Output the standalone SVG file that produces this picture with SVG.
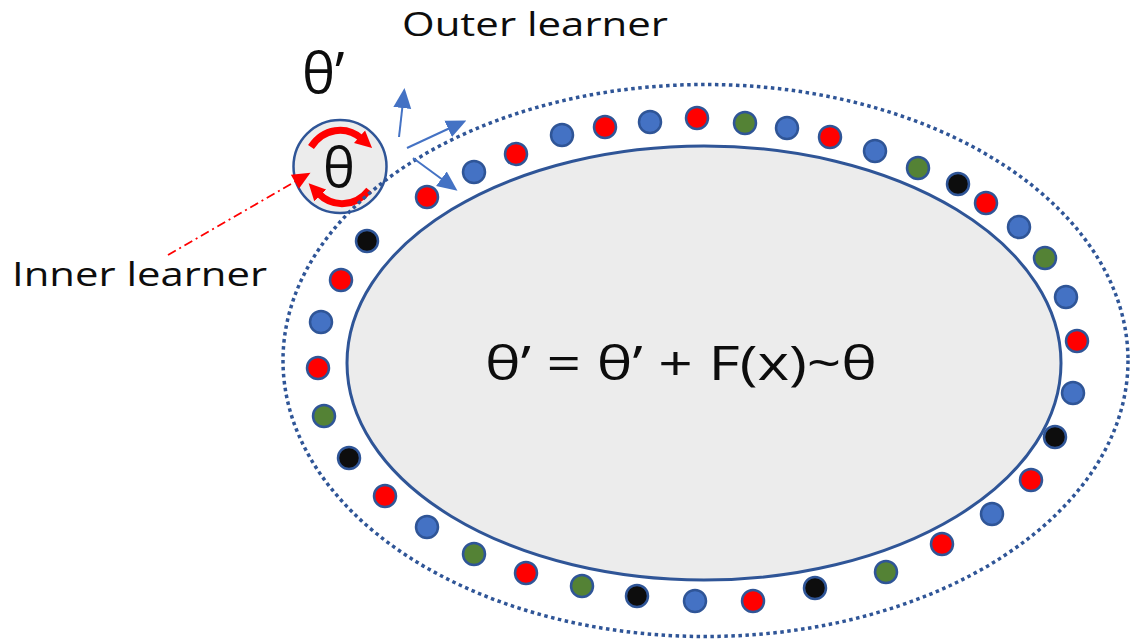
<svg xmlns="http://www.w3.org/2000/svg" width="1130" height="639" viewBox="0 0 1130 639">
<style>
  text { font-family: "Open Sans", "DejaVu Sans", sans-serif; fill: #0d0d0d; }
  .dot { stroke: #2f5597; stroke-width: 2.5; }
  .b { fill: #4472c4; }
  .r { fill: #ff0000; }
  .g { fill: #548235; }
  .k { fill: #0d0d0d; }
  .barrow { stroke: #4472c4; stroke-width: 2; fill: none; marker-end: url(#bhead); }
  .rarc { stroke: #ff0000; stroke-width: 7; fill: none; marker-end: url(#rhead); }
</style>
<defs>
  <marker id="bhead" viewBox="0 0 20 20" refX="2" refY="10" markerWidth="20" markerHeight="20" markerUnits="userSpaceOnUse" orient="auto">
    <path d="M0,1 L20,10 L0,19 Z" fill="#4472c4"/>
  </marker>
  <marker id="rhead" viewBox="0 0 10 10" refX="2" refY="5" markerWidth="2.4" markerHeight="2.6" orient="auto">
    <path d="M0,0 L10,5 L0,10 Z" fill="#ff0000"/>
  </marker>
  <marker id="rline" viewBox="0 0 20 20" refX="4" refY="10" markerWidth="24" markerHeight="18" markerUnits="userSpaceOnUse" orient="auto">
    <path d="M0,1 L20,10 L0,19 Z" fill="#ff0000"/>
  </marker>
</defs>

<g id="inner-region">
  <ellipse cx="704" cy="363" rx="357" ry="217" fill="#ececec" stroke="#2f5597" stroke-width="3"/>
  <text x="681" y="380" font-size="48" text-anchor="middle" textLength="392" lengthAdjust="spacingAndGlyphs">θ’ = θ’ + F(x)~θ</text>
</g>

<g id="theta-node">
  <circle cx="340" cy="166.5" r="46.5" fill="#ececec" stroke="#2f5597" stroke-width="2.5"/>
  <text x="339" y="187" font-size="54" text-anchor="middle">θ</text>
  <path class="rarc" d="M311,147 A36 41 0 0 1 362,139"/>
  <path class="rarc" d="M369,190 A36 41 0 0 1 318,193"/>
</g>

<g id="outer-boundary">
  <ellipse cx="705.5" cy="360.5" rx="422.5" ry="276" fill="none" stroke="#2f5597" stroke-width="3.5" stroke-dasharray="3.5 3.5"/>
</g>

<g id="samples">
  <circle class="dot b" cx="474" cy="172" r="11"/>
  <circle class="dot r" cx="427" cy="197" r="11"/>
  <circle class="dot r" cx="516" cy="154" r="11"/>
  <circle class="dot b" cx="562" cy="135" r="11"/>
  <circle class="dot r" cx="605" cy="127" r="11"/>
  <circle class="dot b" cx="650" cy="122" r="11"/>
  <circle class="dot r" cx="697" cy="118" r="11"/>
  <circle class="dot g" cx="745" cy="123" r="11"/>
  <circle class="dot b" cx="787" cy="128" r="11"/>
  <circle class="dot r" cx="830" cy="137" r="11"/>
  <circle class="dot b" cx="875" cy="151" r="11"/>
  <circle class="dot g" cx="918" cy="168" r="11"/>
  <circle class="dot k" cx="958" cy="184" r="11"/>
  <circle class="dot r" cx="986" cy="203" r="11"/>
  <circle class="dot b" cx="1019" cy="227" r="11"/>
  <circle class="dot g" cx="1045" cy="258" r="11"/>
  <circle class="dot b" cx="1066" cy="297" r="11"/>
  <circle class="dot r" cx="1077" cy="341" r="11"/>
  <circle class="dot b" cx="1073" cy="393" r="11"/>
  <circle class="dot k" cx="1055" cy="437" r="11"/>
  <circle class="dot r" cx="1031" cy="480" r="11"/>
  <circle class="dot b" cx="992" cy="514" r="11"/>
  <circle class="dot r" cx="942" cy="544" r="11"/>
  <circle class="dot g" cx="886" cy="572" r="11"/>
  <circle class="dot k" cx="815" cy="588" r="11"/>
  <circle class="dot r" cx="753" cy="601" r="11"/>
  <circle class="dot b" cx="695" cy="601" r="11"/>
  <circle class="dot k" cx="637" cy="596" r="11"/>
  <circle class="dot g" cx="582" cy="586" r="11"/>
  <circle class="dot r" cx="526" cy="573" r="11"/>
  <circle class="dot g" cx="474" cy="554" r="11"/>
  <circle class="dot b" cx="427" cy="527" r="11"/>
  <circle class="dot r" cx="385" cy="496" r="11"/>
  <circle class="dot k" cx="349" cy="458" r="11"/>
  <circle class="dot g" cx="324" cy="416" r="11"/>
  <circle class="dot r" cx="318" cy="368" r="11"/>
  <circle class="dot b" cx="321" cy="322" r="11"/>
  <circle class="dot r" cx="341" cy="280" r="11"/>
  <circle class="dot k" cx="367" cy="241" r="11"/>
</g>

<g id="connectors">
  <path class="barrow" d="M399,137 L402.5,106"/>
  <path class="barrow" d="M407,148 L450,128"/>
  <path class="barrow" d="M413,158 L443,180"/>
  <path d="M168,255 L298,180" stroke="#ff0000" stroke-width="1.8" fill="none" stroke-dasharray="9 4 2 4" marker-end="url(#rline)"/>
</g>

<g id="labels">
  <text x="402" y="36" font-size="33" textLength="266" lengthAdjust="spacingAndGlyphs">Outer learner</text>
  <text x="12" y="286" font-size="32" textLength="255" lengthAdjust="spacingAndGlyphs">Inner learner</text>
  <text x="302" y="93" font-size="56">θ’</text>
</g>
</svg>
